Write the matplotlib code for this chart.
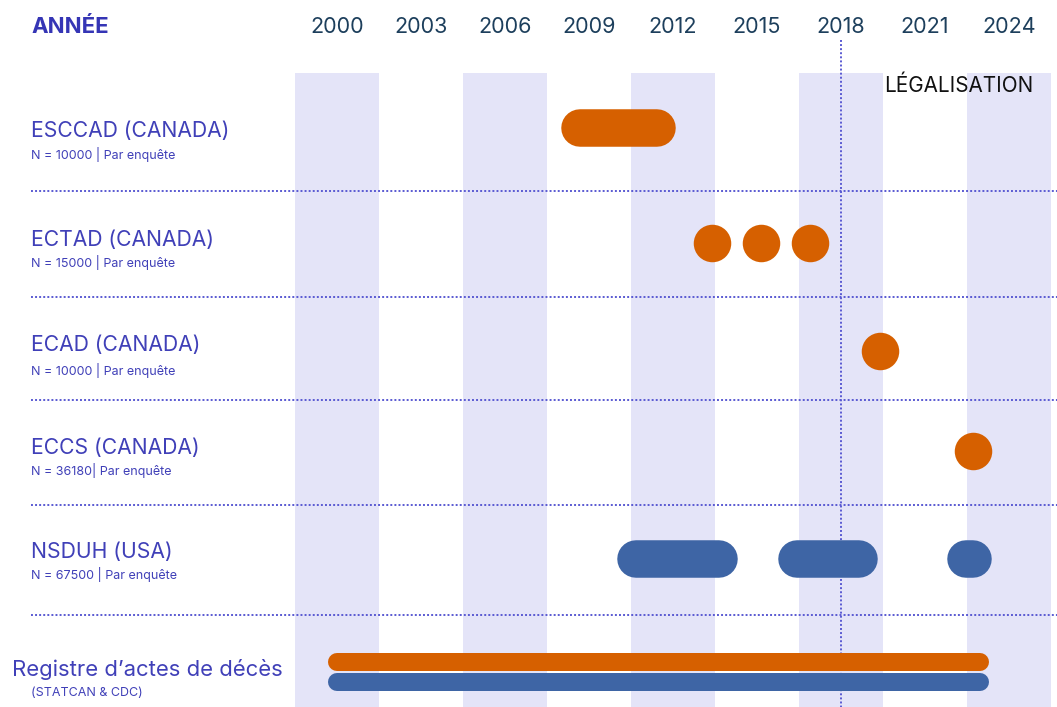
import matplotlib
matplotlib.use("Agg")
import matplotlib.pyplot as plt

plt.rcParams['font.family'] = ['Inter', 'DejaVu Sans']

# ---------------- data ----------------
year_ticks = [2000, 2003, 2006, 2009, 2012, 2015, 2018, 2021, 2024]
band_centers = [2000, 2006, 2012, 2018, 2024]
legalisation_year = 2018

row_names = ["ESCCAD (CANADA)", "ECTAD (CANADA)", "ECAD (CANADA)",
             "ECCS (CANADA)", "NSDUH (USA)"]
row_subs = ["N = 10000 | Par enquête", "N = 15000 | Par enquête",
            "N = 10000 | Par enquête", "N = 36180| Par enquête",
            "N = 67500 | Par enquête"]

# periods (start, end) per row, outer extents in years
esccad_periods = [(2008.0, 2012.1)]
ectad_points = [2013.4, 2015.15, 2016.9]
ecad_points = [2019.4]
eccs_points = [2022.7]
nsduh_periods = [(2010.0, 2014.3), (2015.75, 2019.3), (2021.8, 2023.4)]
registre_canada = (1999.67, 2023.3)
registre_usa = (1999.67, 2023.3)

ORANGE = '#d66000'
BLUE = '#3e65a5'
LABEL = '#4040b8'
BAND = '#e4e4f8'
SEP = '#5a5ad2'

# ---------------- figure ----------------
W, H = 1057, 707
dpi = 100
fig = plt.figure(figsize=(W / dpi, H / dpi), dpi=dpi)
ax = fig.add_axes([0, 0, 1, 1])
px_per_year = 28.0
x0_year = 2000 - 337 / px_per_year
ax.set_xlim(x0_year, x0_year + W / px_per_year)
ax.set_ylim(H, 0)
ax.axis('off')

pt = 72.0 / dpi  # points per pixel


def px(xpix):
    return x0_year + xpix / px_per_year


# bands
for c in band_centers:
    ax.fill_between([c - 1.5, c + 1.5], 73, H, color=BAND, lw=0, zorder=0)

# year tick labels
for y in year_ticks:
    ax.text(y, 27, str(y), ha='center', va='center', fontsize=15.5,
            color='#1d3f5c')
ax.text(px(31), 27, "ANNÉE", ha='left', va='center',
        fontsize=16, fontweight='bold', color='#3535b5')

# separators
sep_y = [190.5, 297, 400, 505, 615]
for sy in sep_y:
    ax.plot([px(31), px(W)], [sy, sy],
            color=SEP, lw=1.4, ls=(0, (1, 1.1)), zorder=1)

# legalisation line
ax.plot([legalisation_year, legalisation_year], [40, H], color=SEP, lw=1.4,
        ls=(0, (1, 1.1)), zorder=3)
ax.text(px(884), 86, "LÉGALISATION", ha='left', va='center',
        fontsize=14.9, color='#111111', zorder=4)

# row labels
row_main_y = [131, 240, 345, 448, 552]
row_sub_y = [154, 263, 370, 471, 575]
for name, sub, my, sy in zip(row_names, row_subs, row_main_y, row_sub_y):
    ax.text(px(31), my, name, ha='left', va='center', fontsize=15.2, color=LABEL)
    ax.text(px(31), sy, sub, ha='left', va='center', fontsize=9, color=LABEL)
ax.text(px(12), 669, "Registre d’actes de décès",
        ha='left', va='center', fontsize=15.9, color=LABEL)
ax.text(px(31), 693, "(STATCAN & CDC)", ha='left', va='center', fontsize=9,
        color=LABEL)


def pill(start, end, yc, h, color):
    r = h / 2 / px_per_year
    ax.plot([start + r, end - r], [yc, yc], color=color, lw=h * pt,
            solid_capstyle='round', zorder=5)


def dot(x, yc, d, color):
    ax.scatter([x], [yc], s=(d * pt) ** 2, color=color, lw=0, zorder=5)


row_center_y = [128, 243, 351, 451, 559]
D = 37.5
for s, e in esccad_periods:
    pill(s, e, row_center_y[0], D, ORANGE)
for x in ectad_points:
    dot(x, row_center_y[1], D, ORANGE)
for x in ecad_points:
    dot(x, row_center_y[2], D, ORANGE)
for x in eccs_points:
    dot(x, row_center_y[3], D, ORANGE)
for s, e in nsduh_periods:
    pill(s, e, row_center_y[4], D, BLUE)

pill(registre_canada[0], registre_canada[1], 662, 18, ORANGE)
pill(registre_usa[0], registre_usa[1], 681.5, 18, BLUE)

fig.savefig("out.png", dpi=dpi)
